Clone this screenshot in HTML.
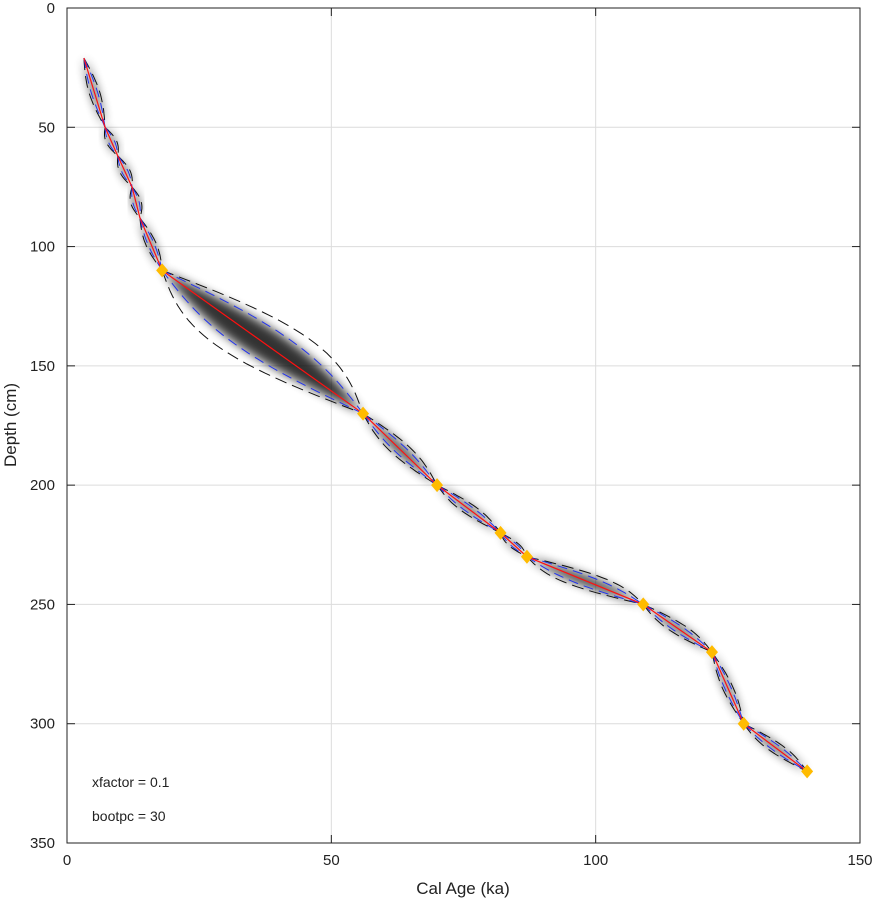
<!DOCTYPE html>
<html><head><meta charset="utf-8"><style>
body{margin:0;background:#fff;}
svg text{font-family:"Liberation Sans",sans-serif;fill:#222;}
</style></head><body>
<svg id="chart" width="874" height="902" xmlns="http://www.w3.org/2000/svg">
<defs><filter id="blur" x="-50%" y="-50%" width="200%" height="200%"><feGaussianBlur stdDeviation="5"/></filter></defs>
<g id="grid"></g><g id="env"></g><g id="marks"></g><g id="axes"></g>
<text x="92" y="787" font-size="14">xfactor = 0.1</text>
<text x="92" y="821" font-size="14">bootpc = 30</text>
<text x="463" y="894" font-size="17" text-anchor="middle">Cal Age (ka)</text>
<text transform="translate(16,425) rotate(-90)" font-size="17" text-anchor="middle">Depth (cm)</text>
</svg>
<script>
const ages=[3.2,7.2,9.6,12.3,13.8,18,56,70,82,87,109,122,128,140];
const depths=[21,50,62,75,88,110,170,200,220,230,250,270,300,320];
const diamondFlags=[0,0,0,0,0,1,1,1,1,1,1,1,1,1];
const xTicks=[0,50,100,150];
const yTicks=[0,50,100,150,200,250,300,350];
const L=67,R=860,T=8,B=843;
const X=a=>L+(a/150)*(R-L), Y=d=>T+(d/350)*(B-T);
const NS="http://www.w3.org/2000/svg";
function mk(tag,attrs,parent){const e=document.createElementNS(NS,tag);for(const k in attrs)e.setAttribute(k,attrs[k]);parent.appendChild(e);return e;}
const grid=document.getElementById('grid'),env=document.getElementById('env'),marks=document.getElementById('marks'),axes=document.getElementById('axes');
xTicks.forEach(t=>{const l=mk('line',{x1:X(t),x2:X(t),y1:T,y2:B,stroke:'#dcdcdc'},grid);


const tk=mk('text',{x:X(t),y:B+22,'font-size':15,'text-anchor':'middle'},axes);tk.textContent=t;


mk('line',{x1:X(t),x2:X(t),y1:B,y2:B-8,stroke:'#222'},axes);mk('line',{x1:X(t),x2:X(t),y1:T,y2:T+8,stroke:'#222'},axes);});
yTicks.forEach(t=>{const l=mk('line',{x1:L,x2:R,y1:Y(t),y2:Y(t),stroke:'#dcdcdc'},grid);


const tk=mk('text',{x:L-12,y:Y(t)+5,'font-size':15,'text-anchor':'end'},axes);tk.textContent=t;


mk('line',{x1:L,x2:L+8,y1:Y(t),y2:Y(t),stroke:'#222'},axes);mk('line',{x1:R,x2:R-8,y1:Y(t),y2:Y(t),stroke:'#222'},axes);});
mk('rect',{x:L,y:T,width:R-L,height:B-T,fill:'none',stroke:'#222'},axes);
function lens(i,frac){
 const a0=ages[i],a1=ages[i+1],d0=depths[i],d1=depths[i+1];
 const w=Math.max(1.0,0.045*Math.pow(a1-a0,1.45))*frac;
 const up=[],dn=[];
 for(let k=0;k<=30;k++){const t=k/30,a=a0+(a1-a0)*t,d=d0+(d1-d0)*t,s=Math.sin(Math.PI*t)*w;
  up.push([X(a+s),Y(d-s*0.15)]);dn.push([X(a-s),Y(d+s*0.15)]);}
 return [up,dn];}
const ps=p=>p.map((q,j)=>(j?'L':'M')+q[0].toFixed(1)+','+q[1].toFixed(1)).join('');
for(let i=0;i<ages.length-1;i++){
 const [u,d]=lens(i,0.55);
 const f=mk('path',{d:ps(u)+ps(d.slice().reverse()).replace('M','L')+'Z',fill:'#000',filter:'url(#blur)',opacity:0.8},env);
 
 
 [[1,'#111','12,6'],[0.6,'#2233ee','10,6']].forEach(([fr,c,da])=>{
  const [u2,d2]=lens(i,fr);
  [u2,d2].forEach(p=>{const e=mk('path',{d:ps(p),fill:'none',stroke:c,'stroke-width':1,'stroke-dasharray':da},env);
  
  });});
}
const line=mk('polyline',{points:ages.map((a,i)=>X(a)+','+Y(depths[i])).join(' '),fill:'none',stroke:'#ff1010','stroke-width':1.2},marks);


ages.forEach((a,i)=>{if(!diamondFlags[i])return;const x=X(a),y=Y(depths[i]);
 const dm=mk('path',{d:`M${x},${y-7}L${x+6},${y}L${x},${y+7}L${x-6},${y}Z`,fill:'#ffbb00'},marks);
 
 });
</script>
</body></html>
